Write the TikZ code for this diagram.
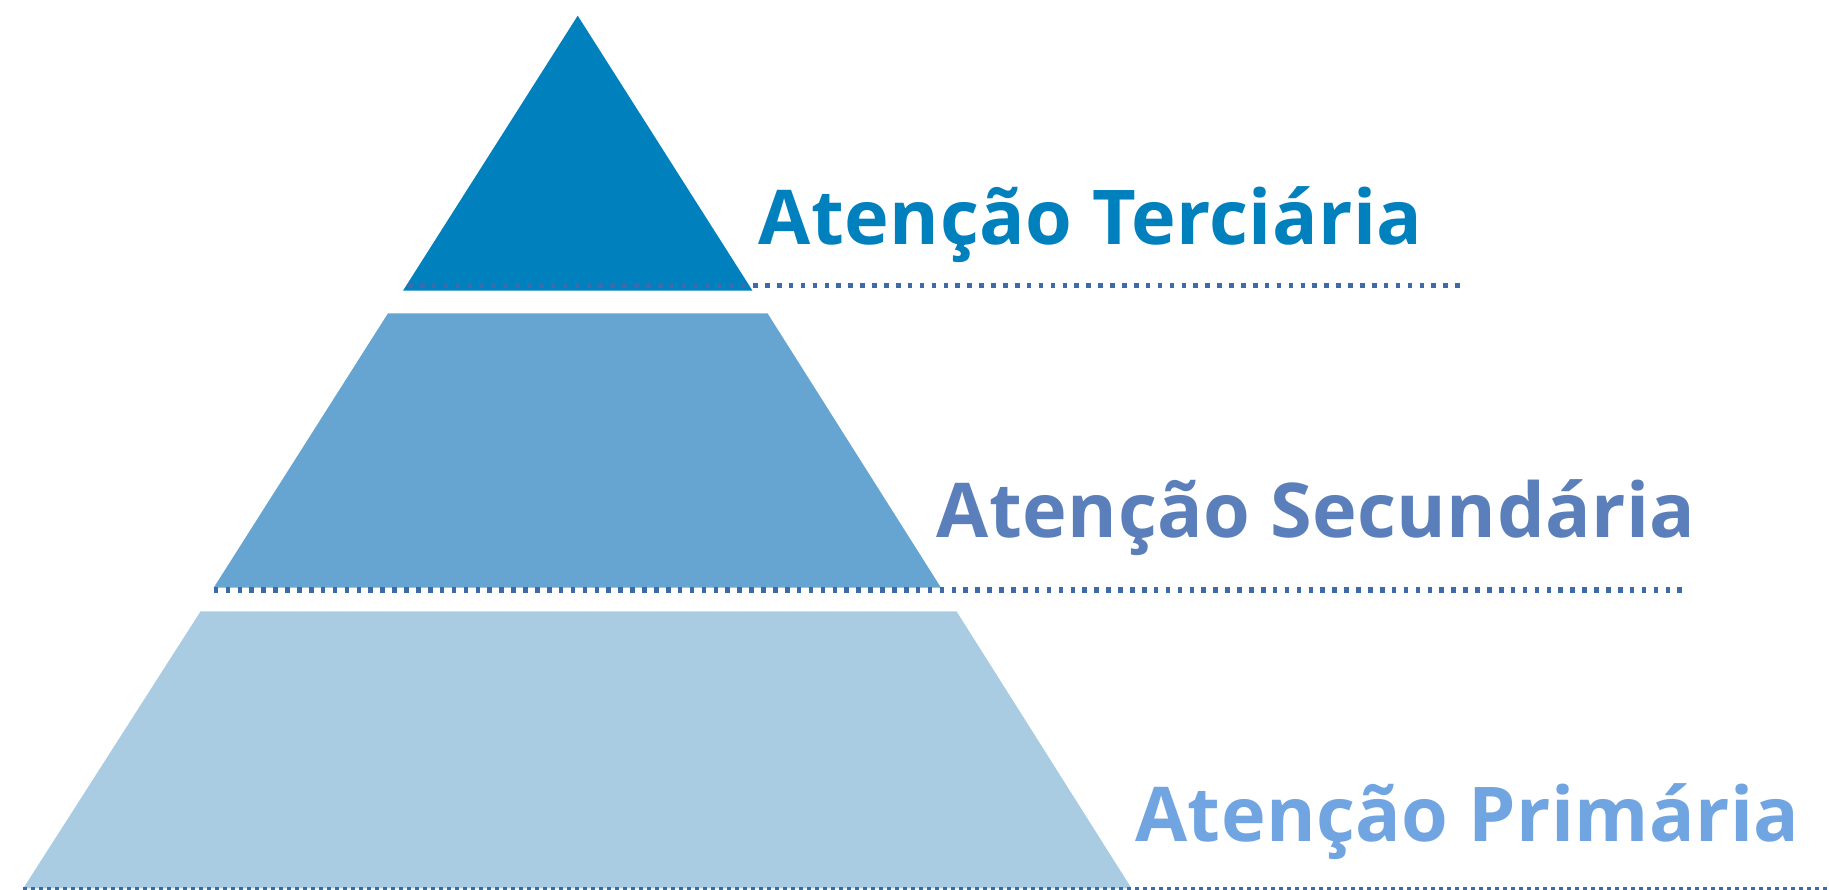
\documentclass[tikz,border=0pt]{standalone}
\usepackage{fontspec}
\setmainfont{Open Sans}
\definecolor{tierA}{HTML}{0180BE}
\definecolor{tierB}{HTML}{66A5D1}
\definecolor{tierC}{HTML}{A9CCE3}
\definecolor{labA}{HTML}{0180BE}
\definecolor{labB}{HTML}{5A7FBA}
\definecolor{labC}{HTML}{71A5E2}
\definecolor{dotc}{HTML}{3D6BAA}
\tikzset{
  lab/.style={anchor=base west, inner sep=0pt, font=\fontsize{75.6}{80}\selectfont\bfseries\addfontfeature{LetterSpace=0.6}},
  dotline/.style={draw=dotc, line width=5.3pt, dash pattern=on 4.6pt off 7.3pt},
  thindot/.style={draw=dotc, line width=2.6pt, dash pattern=on 4pt off 4pt}
}
\begin{document}
\begin{tikzpicture}[x=1pt,y=-1pt]
\useasboundingbox (0,0) rectangle (1829,890);
% tiers
\fill[tierA] (577.7,15.7) -- (752.5,290.7) -- (403,290.7) -- cycle;
\fill[tierB] (388,313.3) -- (767.5,313.3) -- (941,587.7) -- (213.7,587.7) -- cycle;
\fill[tierC] (200.6,611.3) -- (956.5,611.3) -- (1131.5,888.3) -- (23.3,888.3) -- cycle;
% dotted guide lines
\coordinate (d1a) at (408,285.7);
\coordinate (d1b) at (1466,285.7);
\coordinate (d2a) at (213.7,589.7);
\coordinate (d2b) at (1684,589.7);
\coordinate (d3a) at (23,888.5);
\coordinate (d3b) at (1829,888.5);
\draw[dotline] (d1a) -- (d1b);
\draw[dotline, line width=6pt] (d2a) -- (d2b);
\draw[thindot] (d3a) -- (d3b);
% labels
\node[lab, text=labA] (t1) at (758.7,244.7) {Atenção Terciária};
\node[lab, text=labB] (t2) at (936.7,537.3) {Atenção Secundária};
\node[lab, text=labC] (t3) at (1135,841) {Atenção Primária};
\end{tikzpicture}
\end{document}
